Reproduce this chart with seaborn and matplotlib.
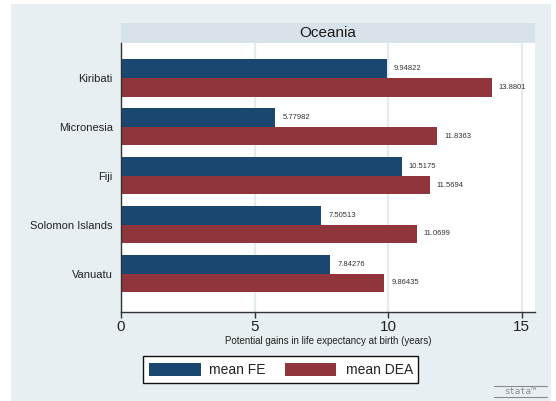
import matplotlib
matplotlib.use("Agg")
import matplotlib.pyplot as plt
from matplotlib.patches import Rectangle
from matplotlib.lines import Line2D
import pandas as pd
import seaborn as sns

# Data
countries = ["Kiribati", "Micronesia", "Fiji", "Solomon Islands", "Vanuatu"]
mean_fe = [9.94822, 5.77982, 10.5175, 7.50513, 7.84276]
mean_dea = [13.8801, 11.8363, 11.5694, 11.0699, 9.86435]
series = ["mean FE", "mean DEA"]
x_ticks = [0, 5, 10, 15]
panel_title = "Oceania"
x_title = "Potential gains in life expectancy at birth (years)"

colors = ["#1a476f", "#90353b"]
bg = "#e8eff2"
band = "#d7e3e9"

W, H = 556, 401
sns.set_theme(style="white")
plt.rcParams["font.family"] = ["Liberation Sans", "DejaVu Sans"]

fig = plt.figure(figsize=(W / 100, H / 100), dpi=100, facecolor="white")


def fx(px):
    return px / W


def fy(py):
    return 1 - py / H


def fig_rect(x0, y0, x1, y1, **kw):
    r = Rectangle((fx(x0), fy(y1)), fx(x1) - fx(x0), fy(y0) - fy(y1),
                  transform=fig.transFigure, **kw)
    fig.patches.append(r)
    return r


# graph region background
fig_rect(11, 4, 551, 401, facecolor=bg, edgecolor="none", zorder=-10)

# panel header band
fig_rect(121, 23, 535, 43, facecolor=band, edgecolor="none", zorder=-5)
fig.text(fx(328), fy(33), panel_title, ha="center", va="center",
         fontsize=11, color="#1a1a1a")

# plot area
ax = fig.add_axes([fx(121), fy(312), fx(535) - fx(121), fy(43) - fy(312)])
ax.set_zorder(1)
ax.set_facecolor("white")

df = pd.DataFrame({
    "country": countries * 2,
    "measure": [series[0]] * len(countries) + [series[1]] * len(countries),
    "value": mean_fe + mean_dea,
})

sns.barplot(data=df, x="value", y="country", hue="measure", orient="h",
            order=countries, hue_order=series, palette=colors,
            width=0.757, saturation=1, legend=False, errorbar=None,
            linewidth=0, ax=ax)

for cont, vals in zip(ax.containers, [mean_fe, mean_dea]):
    ax.bar_label(cont, labels=[f"{v:g}" for v in vals], padding=5,
                 fontsize=5.5, color="#333333")

ax.set_xlim(0, 15.5)
ax.set_ylim(4.787, -0.716)
ax.set_xticks(x_ticks)
ax.set_xticklabels([str(t) for t in x_ticks])
ax.xaxis.grid(True, color="#e3ebef", linewidth=1.6)
ax.yaxis.grid(False)
ax.set_axisbelow(True)

for s in ["top", "right"]:
    ax.spines[s].set_visible(False)
for s in ["left", "bottom"]:
    ax.spines[s].set_visible(True)
    ax.spines[s].set_color("#333333")
    ax.spines[s].set_linewidth(1.0)

ax.tick_params(axis="x", direction="out", length=4, width=1, color="#333333",
               labelsize=11, labelcolor="#222222", pad=2, bottom=True)
ax.tick_params(axis="y", length=0, labelsize=8, labelcolor="#222222", pad=6)
ax.set_ylabel("")
ax.set_xlabel(x_title, fontsize=7, color="#222222", labelpad=1)

# legend
fig_rect(143, 356, 418, 383, facecolor="white", edgecolor="#111111",
         linewidth=1.0, zorder=2)
fig_rect(149, 363, 201, 376, facecolor=colors[0], edgecolor="none", zorder=3)
fig_rect(285, 363, 336, 376, facecolor=colors[1], edgecolor="none", zorder=3)
fig.text(fx(209), fy(369.5), series[0], ha="left", va="center",
         fontsize=10, color="#222222", zorder=4)
fig.text(fx(346), fy(369.5), series[1], ha="left", va="center",
         fontsize=10, color="#222222", zorder=4)

# program mark
for yy in (386, 397):
    fig.lines.append(Line2D([fx(494), fx(547)], [fy(yy), fy(yy)],
                            transform=fig.transFigure, color="#8a8a8a",
                            linewidth=0.8))
fig.text(fx(520), fy(391.5), "stata\u2122", ha="center", va="center",
         fontsize=6.5, color="#8a8a8a", family="DejaVu Sans Mono")

fig.savefig("out.png", dpi=100, facecolor="white")
